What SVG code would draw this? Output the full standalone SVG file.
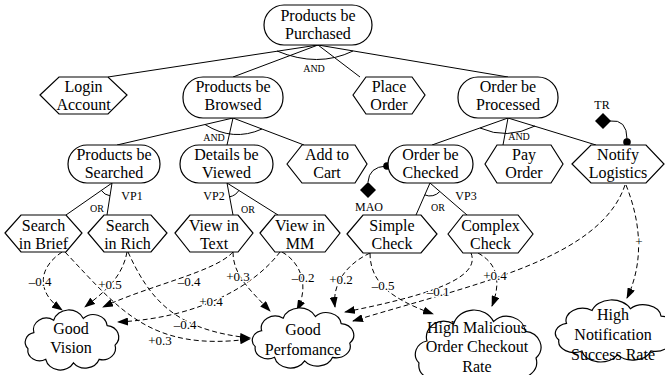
<svg xmlns="http://www.w3.org/2000/svg" width="665" height="375" viewBox="0 0 665 375" font-family="Liberation Serif, DejaVu Serif, serif">
<defs>
<style>
text{font-family:"Liberation Serif","DejaVu Serif",serif}
.n{fill:#fff;stroke:#000;stroke-width:1.2}
.t{font-size:16px;text-anchor:middle;fill:#000}
.s{font-size:10px;text-anchor:middle;fill:#000}
.v{font-size:12px;text-anchor:middle;fill:#000}
.l{font-size:13px;text-anchor:middle;fill:#000;paint-order:stroke;stroke:#fff;stroke-width:2.5px;stroke-linejoin:round}
.e{fill:none;stroke:#000;stroke-width:1}
.d{fill:none;stroke:#000;stroke-width:1;stroke-dasharray:5,3;marker-end:url(#ah)}
</style>
<marker id="ah" markerWidth="11" markerHeight="8" refX="10" refY="4" orient="auto" markerUnits="userSpaceOnUse">
<path d="M0,0 L11,4 L0,8 z" fill="#000"/>
</marker>
</defs>
<rect width="665" height="375" fill="#fff"/>

<g id="connectors">
<path class="e" d="M318 45 L108 77 M318 45 L233 77 M318 45 L360 77 M318 45 L508 77"/>
<path class="e" d="M277 51 Q318 68 353 51"/>
<path class="e" d="M233 118 L117 145 M233 118 L227 145 M233 118 L304 145"/>
<path class="e" d="M205 124.5 Q233 142 262 129"/>
<path class="e" d="M508 118 L432 145 M508 118 L503 145 M508 118 L596 145"/>
<path class="e" d="M480 128 Q507 140 535 126"/>
<path class="e" d="M112 183 L66 215 M112 183 L107 215"/>
<path class="e" d="M101.3 190.4 A13 13 0 0 0 110 195.8"/>
<path class="e" d="M227 183 L233 215 M227 183 L278 215"/>
<path class="e" d="M229.6 196.8 A14 14 0 0 0 238.9 190.4"/>
<path class="e" d="M430 183 L416 215 M430 183 L467 215"/>
<path class="e" d="M424.8 194.9 A13 13 0 0 0 439.8 191.5"/>
<path class="e" d="M368 182 Q369 167 386 166"/>
<circle cx="387" cy="166" r="3.8" fill="#000"/>
<polygon points="368,182 376,190 368,198 360,190" fill="#000"/>
<path class="e" d="M610 121 Q627 119 627 139"/>
<circle cx="627" cy="142" r="3.8" fill="#000"/>
<polygon points="603,113 611,121 603,129 595,121" fill="#000"/>
<path class="d" d="M62 252 C38 268 36 292 62 310"/>
<path class="d" d="M127 252 C122 280 100 295 85 307"/>
<path class="d" d="M65 252 C120 310 150 352 250 339"/>
<path class="d" d="M128 252 C150 300 175 330 250 338"/>
<path class="d" d="M233 252 C215 272 150 285 103 307"/>
<path class="d" d="M233 252 C233 275 250 290 270 311"/>
<path class="d" d="M280 252 C255 285 200 318 118 322"/>
<path class="d" d="M282 252 C300 262 310 285 297 310"/>
<path class="d" d="M370 253 C345 265 332 285 335 307"/>
<path class="d" d="M370 253 C370 285 395 300 433 314"/>
<path class="d" d="M471 253 C482 280 420 297 345 312"/>
<path class="d" d="M478 253 C500 265 500 285 492 306"/>
<path class="d" d="M625 185 C600 260 470 285 353 321"/>
<path class="d" d="M626 185 C640 220 645 260 627 298"/>
<text class="s" x="314" y="72">AND</text>
<text class="s" x="214" y="141">AND</text>
<text class="s" x="519" y="140">AND</text>
<text class="s" x="97" y="212">OR</text>
<text class="s" x="248" y="213">OR</text>
<text class="s" x="438" y="211">OR</text>
<text class="v" x="132" y="200">VP1</text>
<text class="v" x="214" y="200">VP2</text>
<text class="v" x="466" y="200">VP3</text>
<text class="v" x="369" y="211">MAO</text>
<text class="v" x="602" y="109">TR</text>
<text class="l" x="40" y="286">–0.4</text>
<text class="l" x="110" y="289">+0.5</text>
<text class="l" x="160" y="345">+0.3</text>
<text class="l" x="185" y="329">–0.4</text>
<text class="l" x="189" y="286">–0.4</text>
<text class="l" x="238" y="281">+0.3</text>
<text class="l" x="211" y="306">+0.4</text>
<text class="l" x="303" y="282">–0.2</text>
<text class="l" x="341" y="284">+0.2</text>
<text class="l" x="383" y="290">–0.5</text>
<text class="l" x="438" y="296">–0.1</text>
<text class="l" x="495" y="280">+0.4</text>
<text class="l" x="639" y="246">+</text>
</g>

<g id="n-purchased"><rect class="n" x="264" y="5" width="108" height="40" rx="20"/><text class="t" x="318" y="21">Products be</text><text class="t" x="318" y="39">Purchased</text></g>
<g id="n-login"><polygon class="n" points="40,95 59,77 108,77 127,95 108,114 59,114"/><text class="t" x="83.5" y="92">Login</text><text class="t" x="83.5" y="110">Account</text></g>
<g id="n-browsed"><rect class="n" x="183" y="77" width="100" height="41" rx="20"/><text class="t" x="233" y="92">Products be</text><text class="t" x="233" y="110">Browsed</text></g>
<g id="n-place"><polygon class="n" points="353,95 366,77 412,77 425,95 412,114 366,114"/><text class="t" x="389" y="92">Place</text><text class="t" x="389" y="110">Order</text></g>
<g id="n-processed"><rect class="n" x="458" y="77" width="100" height="41" rx="20"/><text class="t" x="508" y="92">Order be</text><text class="t" x="508" y="110">Processed</text></g>

<g id="n-searched"><rect class="n" x="68" y="145" width="92" height="38" rx="19"/><text class="t" x="114" y="160">Products be</text><text class="t" x="114" y="178">Searched</text></g>
<g id="n-details"><rect class="n" x="180" y="145" width="93" height="38" rx="19"/><text class="t" x="226.5" y="160">Details be</text><text class="t" x="226.5" y="178">Viewed</text></g>
<g id="n-cart"><polygon class="n" points="287,164 302,145 355,145 367,164 355,183 302,183"/><text class="t" x="327" y="160">Add to</text><text class="t" x="327" y="178">Cart</text></g>
<g id="n-checked"><rect class="n" x="388" y="145" width="85" height="38" rx="19"/><text class="t" x="430.5" y="160">Order be</text><text class="t" x="430.5" y="178">Checked</text></g>
<g id="n-pay"><polygon class="n" points="485,164 497,145 551,145 563,164 551,183 497,183"/><text class="t" x="524" y="160">Pay</text><text class="t" x="524" y="178">Order</text></g>
<g id="n-notify"><polygon class="n" points="572,164 591,145 646,145 664,164 646,183 591,183"/><text class="t" x="618" y="160">Notify</text><text class="t" x="618" y="178">Logistics</text></g>

<g id="n-brief"><polygon class="n" points="5,233 21,215 66,215 82,233 66,252 21,252"/><text class="t" x="43.5" y="231">Search</text><text class="t" x="43.5" y="249">in Brief</text></g>
<g id="n-rich"><polygon class="n" points="88,233 104,215 151,215 167,233 151,252 104,252"/><text class="t" x="127.5" y="231">Search</text><text class="t" x="127.5" y="249">in Rich</text></g>
<g id="n-vtext"><polygon class="n" points="175,233 190,215 238,215 253,233 238,252 190,252"/><text class="t" x="214" y="231">View in</text><text class="t" x="214" y="249">Text</text></g>
<g id="n-vmm"><polygon class="n" points="260,233 275,215 325,215 340,233 325,252 275,252"/><text class="t" x="300" y="231">View in</text><text class="t" x="300" y="249">MM</text></g>
<g id="n-simple"><polygon class="n" points="347,234 363,215 421,215 437,234 421,253 363,253"/><text class="t" x="392" y="231">Simple</text><text class="t" x="392" y="249">Check</text></g>
<g id="n-complex"><polygon class="n" points="448,234 463,215 518,215 533,234 518,253 463,253"/><text class="t" x="490.5" y="231">Complex</text><text class="t" x="490.5" y="249">Check</text></g>

<g id="s-vision"><path d="M12 22 A13 13 0 0 1 32 8 A16 16 0 0 1 62 6 A14 14 0 0 1 86 14 A13 13 0 0 1 94 36 A13 13 0 0 1 78 52 A15 15 0 0 1 52 56 A15 15 0 0 1 24 52 A12 12 0 0 1 6 40 A11 11 0 0 1 12 22 Z" class="n" vector-effect="non-scaling-stroke" transform="translate(22,313.1) scale(0.99,0.889)"/><text class="t" x="71" y="334">Good</text><text class="t" x="71" y="353">Vision</text></g>
<g id="s-perf"><path d="M12 22 A13 13 0 0 1 32 8 A16 16 0 0 1 62 6 A14 14 0 0 1 86 14 A13 13 0 0 1 94 36 A13 13 0 0 1 78 52 A15 15 0 0 1 52 56 A15 15 0 0 1 24 52 A12 12 0 0 1 6 40 A11 11 0 0 1 12 22 Z" class="n" vector-effect="non-scaling-stroke" transform="translate(248.8,311.1) scale(1.074,0.889)"/><text class="t" x="303" y="335">Good</text><text class="t" x="303" y="355">Perfomance</text></g>
<g id="s-malicious"><path d="M12 22 A13 13 0 0 1 32 8 A16 16 0 0 1 62 6 A14 14 0 0 1 86 14 A13 13 0 0 1 94 36 A13 13 0 0 1 78 52 A15 15 0 0 1 52 56 A15 15 0 0 1 24 52 A12 12 0 0 1 6 40 A11 11 0 0 1 12 22 Z" class="n" vector-effect="non-scaling-stroke" transform="translate(411,314.3) scale(1.33,1.215)"/><text class="t" x="477" y="333">High Malicious</text><text class="t" x="477" y="352">Order Checkout</text><text class="t" x="477" y="372">Rate</text></g>
<g id="s-notification"><path d="M12 22 A13 13 0 0 1 32 8 A16 16 0 0 1 62 6 A14 14 0 0 1 86 14 A13 13 0 0 1 94 36 A13 13 0 0 1 78 52 A15 15 0 0 1 52 56 A15 15 0 0 1 24 52 A12 12 0 0 1 6 40 A11 11 0 0 1 12 22 Z" class="n" vector-effect="non-scaling-stroke" transform="translate(551.2,303.2) scale(1.277,0.918)"/><text class="t" x="613" y="320">High</text><text class="t" x="613" y="340">Notification</text><text class="t" x="613" y="360">Success Rate</text></g>
</svg>
